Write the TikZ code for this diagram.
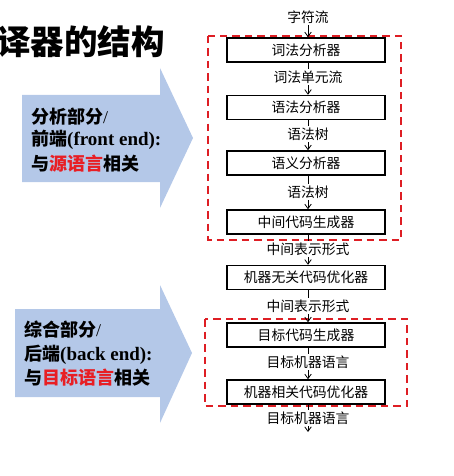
\documentclass[tikz,border=0pt]{standalone}
\usepackage{fontspec}
\setmainfont{Liberation Serif}
\newfontfamily\cjk{Noto Sans CJK SC}
\usetikzlibrary{arrows.meta}
\definecolor{dashred}{RGB}{222,30,36}
\definecolor{txtred}{RGB}{232,30,36}
\definecolor{arrowblue}{RGB}{180,200,232}
\begin{document}
\begin{tikzpicture}[x=1pt,y=-1pt,
  proc/.style={draw=black,fill=white,line width=1.5pt,minimum width=158pt,minimum height=24pt,inner sep=0pt,font=\cjk\fontsize{13.8}{13.8}\selectfont},
  lab/.style={inner sep=1.5pt,font=\cjk\fontsize{13.8}{13.8}\selectfont},
  flow/.style={line width=0.8pt,-{Straight Barb[length=4.5pt,width=6.5pt]}},
  plain/.style={line width=0.8pt},
  group/.style={draw=dashred,line width=2.4pt,dash pattern=on 7.5pt off 5pt},
  bluearrow/.style={fill=arrowblue,draw=none},
  side/.style={anchor=west,inner sep=0pt,font=\bfseries\fontsize{18}{18}\selectfont},
  ttl/.style={anchor=west,inner sep=0pt,font=\cjk\bfseries\fontsize{33.5}{33.5}\selectfont}]
\useasboundingbox (0,0) rectangle (454,476);
% title
\node[ttl] (title) at (-3,42) {译器的结构};
% blue arrows
\fill[bluearrow] (22,95) -- (160,95) -- (160,68) -- (193,138) -- (160,208) -- (160,182) -- (22,182) -- cycle;
\fill[bluearrow] (15,309) -- (160,309) -- (160,285) -- (192,353) -- (160,423) -- (160,397) -- (15,397) -- cycle;
\node[side] (f1) at (31,117) {{\cjk 分析部分}{\mdseries /}};
\node[side] (f2) at (31,140) {{\cjk 前端}\fontsize{19}{19}\selectfont(front end):};
\node[side] (f3) at (31,164) {{\cjk 与\textcolor{txtred}{源语言}相关}};
\node[side] (b1t) at (24,330) {{\cjk 综合部分}{\mdseries /}};
\node[side] (b2t) at (24,355) {{\cjk 后端}\fontsize{19}{19}\selectfont(back end):};
\node[side] (b3t) at (24,378) {{\cjk 与\textcolor{txtred}{目标语言}相关}};
% dashed groups
\draw[group] (208,36) rectangle (401,240);
\draw[group] (205,319) rectangle (407,406);
% process boxes
\node[proc] (p1) at (306,50) {词法分析器};
\node[proc] (p2) at (306,107.5) {语法分析器};
\node[proc] (p3) at (306,163) {语义分析器};
\node[proc] (p4) at (306,222) {中间代码生成器};
\node[proc] (p5) at (306,277.5) {机器无关代码优化器};
\node[proc] (p6) at (306,335) {目标代码生成器};
\node[proc] (p7) at (306,392) {机器相关代码优化器};
% labels
\node[lab] (l0) at (308,17) {字符流};
\node[lab] (l1) at (308,77) {词法单元流};
\node[lab] (l2) at (308,134) {语法树};
\node[lab] (l3) at (308,192) {语法树};
\node[lab] (l4) at (308,249) {中间表示形式};
\node[lab] (l5) at (308,306) {中间表示形式};
\node[lab] (l6) at (308,362) {目标机器语言};
\node[lab] (l7) at (308,418) {目标机器语言};
\coordinate (end) at (308,432);
% connectors
\draw[flow] (l0) -- (l0 |- p1.north);
\draw[plain] (l1 |- p1.south) -- (l1); \draw[flow] (l1) -- (l1 |- p2.north);
\draw[plain] (l2 |- p2.south) -- (l2); \draw[flow] (l2) -- (l2 |- p3.north);
\draw[plain] (l3 |- p3.south) -- (l3); \draw[flow] (l3) -- (l3 |- p4.north);
\draw[plain] (l4 |- p4.south) -- (l4); \draw[flow] (l4) -- (l4 |- p5.north);
\draw[plain] (l5 |- p5.south) -- (l5); \draw[flow] (l5) -- (l5 |- p6.north);
\draw[plain] (l6 |- p6.south) -- (l6); \draw[flow] (l6) -- (l6 |- p7.north);
\draw[plain] (l7 |- p7.south) -- (l7); \draw[flow] (l7) -- (end);
\end{tikzpicture}
\end{document}
